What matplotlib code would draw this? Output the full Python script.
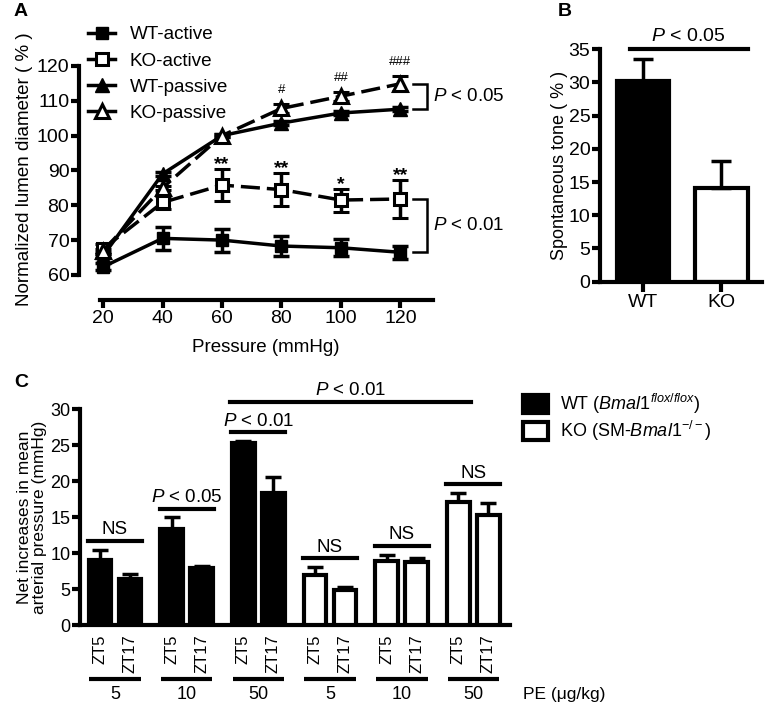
import numpy as np
import matplotlib
matplotlib.use('Agg')
import matplotlib.pyplot as plt
from matplotlib.patches import Patch
from matplotlib.lines import Line2D

plt.rcParams['font.family'] = ['Liberation Sans', 'DejaVu Sans']
plt.rcParams['mathtext.fontset'] = 'custom'
plt.rcParams['mathtext.rm'] = 'Liberation Sans'
plt.rcParams['mathtext.it'] = 'Liberation Sans:italic'
plt.rcParams['mathtext.bf'] = 'Liberation Sans:bold'

# ---- panel A data
pressure = [20, 40, 60, 80, 100, 120]
wt_active = [62.3, 70.5, 70.0, 68.3, 67.8, 66.5]
wt_active_err = [1.0, 3.3, 3.3, 2.8, 2.4, 1.8]
ko_active = [67.5, 80.8, 85.8, 84.5, 81.5, 81.8]
ko_active_err = [1.5, 2.0, 4.6, 4.7, 3.3, 5.5]
wt_passive = [65.5, 89.0, 100.0, 103.6, 106.5, 107.6]
wt_passive_err = [0.5, 0.5, 0.5, 0.6, 0.6, 0.6]
ko_passive = [67.0, 85.0, 100.0, 107.8, 111.3, 114.9]
ko_passive_err = [0.5, 0.5, 0.5, 1.2, 1.3, 2.2]
stars = ['', '', '**', '**', '*', '**']
hashes = ['', '', '', '#', '##', '###']

# ---- panel B data
genotype = ['WT', 'KO']
tone = [30.3, 14.1]
tone_err = [3.2, 4.1]

# ---- panel C data
doses = ['5', '10', '50', '5', '10', '50']
zt = ['ZT5', 'ZT17']
map_zt5 = [9.1, 13.3, 25.35, 6.95, 8.95, 17.15]
map_zt5_err = [1.4, 1.7, 0.25, 1.15, 0.85, 1.25]
map_zt17 = [6.35, 7.97, 18.4, 4.87, 8.8, 15.3]
map_zt17_err = [0.75, 0.3, 2.2, 0.45, 0.5, 1.7]
is_ko = [False, False, False, True, True, True]
sig_c = ['NS', '$P$ < 0.05', '$P$ < 0.01', 'NS', 'NS', 'NS']

LW = 3.0
W, H = 774, 713
fig = plt.figure(figsize=(W / 100, H / 100), dpi=100)


def px_axes(l, t, r, b):
    return fig.add_axes([l / W, 1 - b / H, (r - l) / W, (b - t) / H])


def style(ax, fs):
    for s in ['top', 'right']:
        ax.spines[s].set_visible(False)
    for s in ['left', 'bottom']:
        ax.spines[s].set_linewidth(LW)
    ax.tick_params(width=LW, length=6, labelsize=fs, pad=1)


# ================= A
axA = px_axes(79, 62.5, 436, 300)
axA.set_xlim(11.9, 132)
axA.set_ylim(52.8, 121)
style(axA, 14)
axA.spines['left'].set_bounds(60, 120)
axA.spines['bottom'].set_bounds(19, 131)
axA.set_yticks(range(60, 121, 10))
axA.set_xticks(pressure)

ekw = dict(color='black', lw=2.5, elinewidth=2.5, capsize=6, capthick=2.5,
           clip_on=False)
dash = (5.5, 2)
axA.errorbar(pressure, wt_active, yerr=wt_active_err, marker='s', ms=9,
             mfc='black', mec='black', **ekw)
axA.errorbar(pressure, ko_active, yerr=ko_active_err, marker='s', ms=9,
             mfc='white', mec='black', mew=2.2, dashes=dash, **ekw)
axA.errorbar(pressure, wt_passive, yerr=wt_passive_err, marker='^', ms=10,
             mfc='black', mec='black', **ekw)
axA.errorbar(pressure, ko_passive, yerr=ko_passive_err, marker='^', ms=10,
             mfc='white', mec='black', mew=2.2, dashes=dash, **ekw)

for x, y, e, s in zip(pressure, ko_active, ko_active_err, stars):
    if s:
        axA.text(x, y + e + 1.2, s, ha='center', va='center', fontsize=14,
                 fontweight='bold')
for x, y, e, s in zip(pressure, ko_passive, ko_passive_err, hashes):
    if s:
        axA.text(x, y + e + 4.0, s, ha='center', va='center', fontsize=9.5,
                 clip_on=False)

# brackets on the right
for top, bot, lab in [(ko_passive[-1], wt_passive[-1], '$P$ < 0.05'),
                      (ko_active[-1], wt_active[-1], '$P$ < 0.01')]:
    axA.plot([124.4, 129.1, 129.1, 124.4], [top, top, bot, bot], color='black',
             lw=1.8, clip_on=False, solid_joinstyle='miter')
    axA.text(131, (top + bot) / 2, lab, ha='left', va='center', fontsize=13.5)

axA.set_ylabel('Normalized lumen diameter ( % )', fontsize=13.5)
axA.set_xlabel('Pressure (mmHg)', fontsize=13.5)
axA.yaxis.set_label_coords(-0.13, 0.55)
axA.xaxis.set_label_coords(0.524, -0.165)

handles = [
    Line2D([], [], color='black', lw=2.5, marker='s', ms=9, mfc='black'),
    Line2D([], [], color='black', lw=2.5, marker='s', ms=9, mfc='white', mew=2.2),
    Line2D([], [], color='black', lw=2.5, marker='^', ms=10, mfc='black'),
    Line2D([], [], color='black', lw=2.5, marker='^', ms=10, mfc='white', mew=2.2),
]
fig.legend(handles, ['WT-active', 'KO-active', 'WT-passive', 'KO-passive'],
           loc='upper left', bbox_to_anchor=(88 / W, 1 - 26 / H),
           bbox_transform=fig.transFigure, frameon=False, fontsize=13.6,
           handlelength=1.45, handletextpad=0.75, labelspacing=0.48,
           borderpad=0, borderaxespad=0)
fig.text(14 / W, 1 - 12 / H, 'A', fontsize=14, fontweight='bold',
         ha='left', va='center')

# ================= B
axB = px_axes(600, 49.3, 762, 281.7)
axB.set_xlim(-0.55, 1.52)
axB.set_ylim(0, 35)
style(axB, 14)
axB.set_yticks(range(0, 36, 5))
xb = np.arange(len(genotype))
axB.bar(xb, tone, width=0.67, color=['black', 'white'], edgecolor='black',
        linewidth=LW)
axB.errorbar(xb, tone, yerr=[[0, 0], tone_err], fmt='none', ecolor='black',
             elinewidth=2.5, capsize=7, capthick=2.5)
axB.set_xticks(xb)
axB.set_xticklabels(genotype)
axB.tick_params(axis='x', length=7, pad=2)
axB.plot([-0.17, 1.34], [35, 35], color='black', lw=LW, clip_on=False)
axB.text(0.58, 35.6, '$P$ < 0.05', ha='center', va='bottom', fontsize=14)
axB.set_ylabel('Spontaneous tone ( % )', fontsize=13)
axB.yaxis.set_label_coords(-0.2, 0.5)
fig.text(558 / W, 1 - 12 / H, 'B', fontsize=14, fontweight='bold',
         ha='left', va='center')

# ================= C
axC = px_axes(80, 409.3, 510, 625)
axC.set_xlim(-1.167, 13.17)
axC.set_ylim(0, 30)
style(axC, 13)
axC.set_yticks(range(0, 31, 5))
centers = np.arange(len(doses)) * 2.39
bw = 0.75
for i, c in enumerate(centers):
    fc = 'white' if is_ko[i] else 'black'
    vals = [map_zt5[i], map_zt17[i]]
    errs = [map_zt5_err[i], map_zt17_err[i]]
    xs = [c - 0.5, c + 0.5]
    axC.bar(xs, vals, width=bw, color=fc, edgecolor='black', linewidth=LW,
            zorder=3)
    axC.errorbar(xs, vals, yerr=[[0, 0], errs], fmt='none', ecolor='black',
                 elinewidth=2.5, capsize=6, capthick=2.5, zorder=2)
    top = max(v + e for v, e in zip(vals, errs)) + 1.2
    axC.plot([c - 0.9, c + 0.9], [top, top], color='black', lw=LW,
             clip_on=False)
    axC.text(c, top + 0.35, sig_c[i], ha='center', va='bottom', fontsize=13.5)
    # group underline + dose label
    axC.plot([c - 0.86, c + 0.86], [-7.55, -7.55], color='black', lw=LW,
             clip_on=False, solid_capstyle='butt')
    axC.text(c, -9.7, doses[i], ha='center', va='center', fontsize=13)

# top comparison: WT 50 ZT5 vs KO 50 ZT5
y_top = 31.05
axC.plot([centers[2] - 0.93, centers[5] - 0.07], [y_top, y_top],
         color='black', lw=LW, clip_on=False)
axC.text((centers[2] + centers[5]) / 2 - 0.5, y_top + 0.35, '$P$ < 0.01',
         ha='center', va='bottom', fontsize=13.5)

ticks = np.concatenate([[c - 0.5, c + 0.5] for c in centers])
axC.set_xticks(ticks)
axC.set_xticklabels(zt * len(doses), rotation=90, va='top', fontsize=12)
axC.tick_params(axis='x', length=0, pad=7)
axC.text(13.6, -9.7, 'PE (\u03bcg/kg)', ha='left', va='center', fontsize=12.5,
         clip_on=False)
axC.set_ylabel('Net increases in mean\narterial pressure (mmHg)', fontsize=12.5,
               linespacing=1.0)
axC.yaxis.set_label_coords(-0.077, 0.5)

leg_handles = [Patch(facecolor='black', edgecolor='black', lw=LW),
               Patch(facecolor='white', edgecolor='black', lw=LW)]
fig.legend(leg_handles,
           ['WT ($\\mathit{Bmal1}^{flox/flox}$)',
            'KO (SM-$\\mathit{Bmal1}^{-/-}$)'],
           loc='upper left', bbox_to_anchor=(523 / W, 1 - 392 / H),
           bbox_transform=fig.transFigure, frameon=False, fontsize=13,
           handlelength=1.4, handleheight=1.15, handletextpad=0.65,
           labelspacing=0.15, borderpad=0, borderaxespad=0)
fig.text(14 / W, 1 - 383 / H, 'C', fontsize=14, fontweight='bold',
         ha='left', va='center')

fig.savefig('out.png', dpi=100)
